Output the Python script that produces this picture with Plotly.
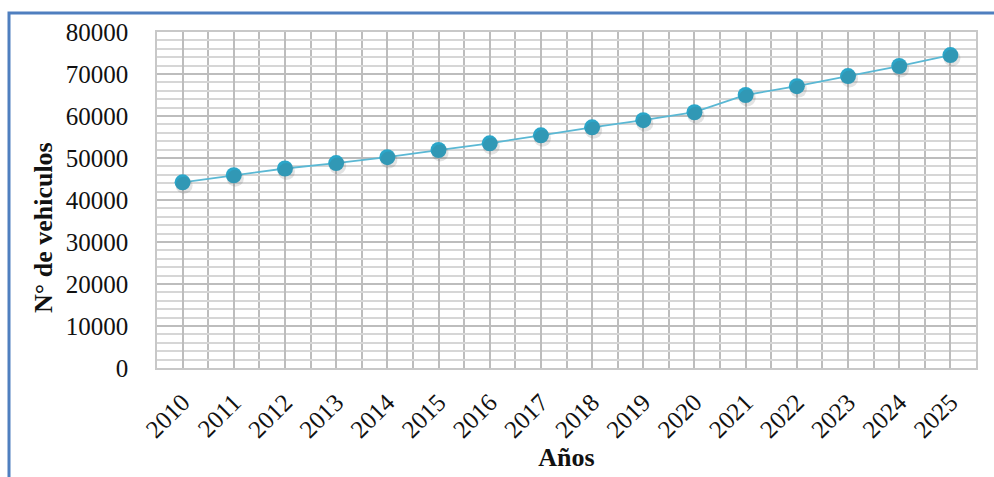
import plotly.graph_objects as go

# Parque vehicular estimado por año
years = ["2010", "2011", "2012", "2013", "2014", "2015", "2016", "2017",
         "2018", "2019", "2020", "2021", "2022", "2023", "2024", "2025"]
vehicles = [44200, 45900, 47500, 48800, 50200, 51900, 53500, 55400,
            57300, 59000, 60900, 65000, 67100, 69500, 71900, 74500]
y_ticks = [0, 10000, 20000, 30000, 40000, 50000, 60000, 70000, 80000]
y_labels = [str(v) for v in y_ticks]

x_idx = list(range(len(years)))

# plot-area geometry in pixels
W, H = 994, 477
L, R, T, B = 157, 18, 32, 109
pw, ph = W - L - R, H - T - B

def px_x(x):
    return (x - L) / pw

def px_y(y):
    return (H - B - y) / ph

serif = "Liberation Serif, Times New Roman, serif"
grid_major = "#bdbdbd"
grid_minor = "#d6d6d6"

fig = go.Figure()

# soft drop shadow under the series
fig.add_trace(go.Scatter(
    x=x_idx, y=vehicles, mode="markers",
    marker=dict(size=17, color="rgba(80,80,80,0.16)"),
    hoverinfo="skip", showlegend=False, xaxis="x2", yaxis="y2",
))

fig.add_trace(go.Scatter(
    x=x_idx, y=vehicles, mode="lines+markers",
    line=dict(color="#5ab8d4", width=1.8),
    marker=dict(size=16, color="#2ba6c9"),
    showlegend=False,
))

fig.update_layout(
    width=W, height=H,
    margin=dict(l=L, r=R, t=T, b=B),
    paper_bgcolor="white", plot_bgcolor="white",
    font=dict(family=serif, color="#111111"),
    xaxis=dict(
        range=[-0.5, len(years) - 0.5],
        tickmode="array", tickvals=x_idx, ticktext=years,
        tickangle=-45, tickfont=dict(size=25, family=serif),
        ticklabelstandoff=8,
        showgrid=True, gridcolor=grid_major, gridwidth=1.5,
        minor=dict(tickmode="linear", tick0=0.5, dtick=1,
                   showgrid=True, gridcolor=grid_major, gridwidth=1.5),
        showline=True, linecolor="#c8c8c8", linewidth=1.5, mirror=True,
        zeroline=False, ticks="",
        title=dict(text="<b>Años</b>", font=dict(size=26, family=serif), standoff=4),
    ),
    yaxis=dict(
        range=[0, 80000],
        tickmode="array", tickvals=y_ticks, ticktext=y_labels,
        tickfont=dict(size=25, family=serif),
        showgrid=True, gridcolor=grid_major, gridwidth=1.5,
        minor=dict(tickmode="linear", tick0=0, dtick=2000,
                   showgrid=True, gridcolor=grid_minor, gridwidth=1.5),
        showline=True, linecolor="#c8c8c8", linewidth=1.5, mirror=True,
        zeroline=False, ticks="", ticklabelstandoff=22,
    ),
    xaxis2=dict(range=[-0.5 - 0.03, len(years) - 0.5 - 0.03], overlaying="x",
                visible=False),
    yaxis2=dict(range=[0 + 700, 80000 + 700], overlaying="y", visible=False),
    annotations=[dict(
        text="<b>N° de vehiculos</b>", textangle=-90,
        xref="paper", yref="paper", x=px_x(44), y=px_y(227),
        xanchor="center", yanchor="middle", showarrow=False,
        font=dict(size=26, family=serif, color="#111111"),
    )],
    shapes=[dict(
        type="rect", xref="paper", yref="paper",
        x0=px_x(9), x1=px_x(1010), y0=px_y(500), y1=px_y(13),
        line=dict(color="#4f7fbf", width=3), fillcolor="rgba(0,0,0,0)",
        layer="below",
    )],
)

fig.write_html("out.html")
